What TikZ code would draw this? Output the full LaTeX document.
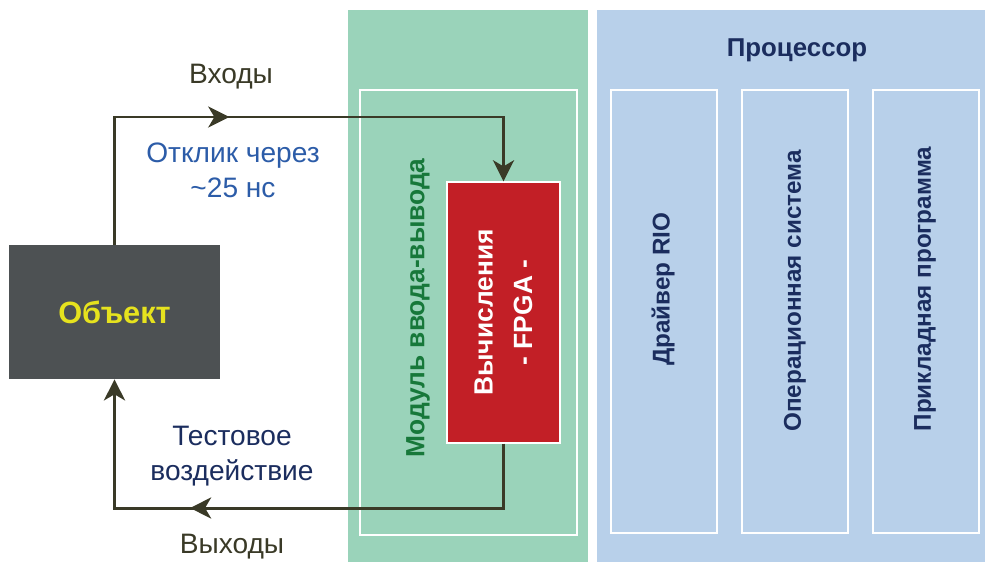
\documentclass[tikz,border=0pt]{standalone}
\usepackage{fontspec}
\setmainfont{Liberation Sans}
\usetikzlibrary{arrows.meta,decorations.markings}
\definecolor{panelgreen}{HTML}{9AD3BA}
\definecolor{panelblue}{HTML}{B8D0EA}
\definecolor{fpgared}{HTML}{C21F26}
\definecolor{objgray}{HTML}{4D5153}
\definecolor{objyellow}{HTML}{E6E21E}
\definecolor{modgreen}{HTML}{17783A}
\definecolor{navy}{HTML}{1B2D5E}
\definecolor{respblue}{HTML}{2C5CA8}
\definecolor{olive}{HTML}{3A3A27}
\begin{document}
\begin{tikzpicture}[x=0.02cm,y=-0.02cm,
	panel/.style={draw=none,inner sep=0pt},
	subbox/.style={draw=white,line width=1.2pt,fill=panelblue,inner sep=0pt,minimum width=2.12cm,minimum height=8.86cm},
	vlabel/.style={rotate=90,font=\fontsize{13.8}{16}\selectfont\bfseries,text=navy},
	sigtext/.style={align=center,font=\fontsize{16}{20}\selectfont},
	flow/.style={olive,line width=1.7pt,-{Stealth[length=12pt,width=12pt,inset=3.5pt]}},
	midtip/.style={postaction={decorate},decoration={markings,
		mark=at position #1 with {\arrow{Stealth[length=12pt,width=12pt,inset=3.5pt]}}}}]
	\useasboundingbox (0,0) rectangle (985,562);
	% panels
	\node[panel,fill=panelgreen,minimum width=4.8cm,minimum height=11.04cm] (io) at (468,286) {};
	\node[panel,fill=panelblue,minimum width=7.76cm,minimum height=11.04cm] (cpu) at (791,286) {};
	\node[draw=white,line width=1.2pt,inner sep=0pt,minimum width=4.34cm,minimum height=8.9cm] (ioin) at (468.5,312.5) {};
	% fpga
	\node[draw=white,line width=0.8pt,fill=fpgared,inner sep=0pt,minimum width=2.26cm,minimum height=5.22cm] (red) at (503.5,312.5) {};
	\node[rotate=90,align=center,text=white,font=\fontsize{15}{22.5}\selectfont\bfseries] (redlbl) at (red.center) {Вычисления\\- FPGA -};
	\node[rotate=90,text=modgreen,font=\fontsize{15}{18}\selectfont\bfseries] (modlbl) at (418,308) {Модуль ввода-вывода};
	% processor
	\node[text=navy,font=\fontsize{14.7}{17}\selectfont\bfseries] (cpulbl) at (797,50) {Процессор};
	\node[subbox] (drv) at (664,311.5) {};
	\node[subbox] (os) at (795,311.5) {};
	\node[subbox] (app) at (926,311.5) {};
	\node[vlabel] (drvlbl) at (663,289) {Драйвер RIO};
	\node[vlabel] (oslbl) at (795,291) {Операционная система};
	\node[vlabel] (applbl) at (925,289) {Прикладная программа};
	% object
	\node[panel,fill=objgray,minimum width=4.22cm,minimum height=2.68cm,text=objyellow,font=\fontsize{17.5}{20}\selectfont\bfseries] (obj) at (114.5,312) {Объект};
	% signals
	\coordinate (inln) at (0,117);
	\coordinate (outln) at (0,508);
	\draw[flow,midtip=138pt] (obj.north) -- (obj.north |- inln) -- (red.north |- inln) -- (red.north);
	\draw[flow,midtip=215pt] (red.south) -- (red.south |- outln) -- (obj.south |- outln) -- (obj.south);
	\node[sigtext,text=olive] (inlbl) at (231,77) {Входы};
	\node[sigtext,text=respblue] (resp) at (233,170) {Отклик через\\\textasciitilde25 нс};
	\node[sigtext,text=navy] (test) at (232,456) {Тестовое\\воздействие};
	\node[sigtext,text=olive] (outlbl) at (232,547) {Выходы};
\end{tikzpicture}
\end{document}
